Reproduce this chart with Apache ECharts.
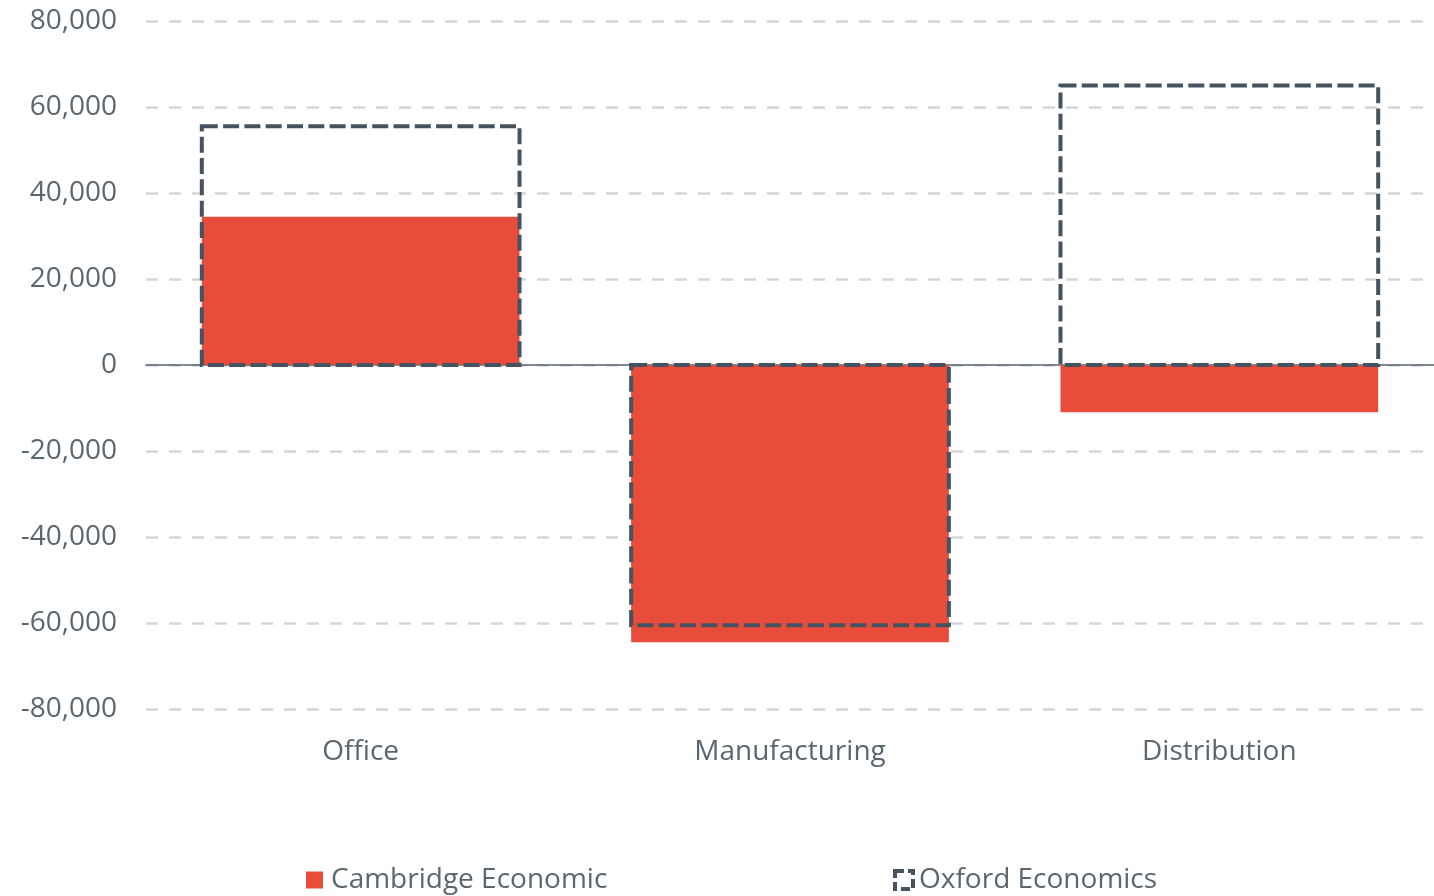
<!DOCTYPE html>
<html>
<head>
<meta charset="utf-8">
<script src="https://cdn.jsdelivr.net/npm/echarts@6/dist/echarts.min.js"></script>
<style>
  html, body { margin: 0; padding: 0; background: #ffffff; }
  #chart { width: 1434px; height: 896px; }
</style>
</head>
<body>
<div id="chart"></div>
<script>
// Net change by property sector, two forecasters
const categories = ['Office', 'Manufacturing', 'Distribution'];
const cambridgeValues = [34500, -64500, -11000];
const oxfordValues = [55500, -60500, 65000];
const seriesNames = ['Cambridge Economic', 'Oxford Economics'];

const textColor = '#5b6770';
const fontFamily = '"Open Sans", sans-serif';
const redColor = '#e84c3a';
const outlineColor = '#44535f';
const outlineDash = [16, 5.3];
const barRatio = 0.74;

const chart = echarts.init(document.getElementById('chart'));

// Outline bars: the dashed stroke is centred on the value edges
function renderOutlineBar(params, api) {
  const idx = api.value(0);
  const base = api.coord([idx, 0]);
  const tip = api.coord([idx, api.value(1)]);
  const w = api.size([1, 0])[0] * barRatio;
  return {
    type: 'rect',
    shape: {
      x: base[0] - w / 2,
      y: Math.min(base[1], tip[1]),
      width: w,
      height: Math.abs(tip[1] - base[1])
    },
    style: {
      fill: null,
      stroke: outlineColor,
      lineWidth: 4,
      lineDash: outlineDash
    }
  };
}

chart.setOption({
  animation: false,
  backgroundColor: '#ffffff',
  textStyle: { fontFamily: fontFamily },
  grid: { left: 146, right: 0, top: 21, bottom: 187, containLabel: false },
  legend: [
    {
      data: [{ name: seriesNames[0], icon: 'rect', itemStyle: { color: redColor } }],
      left: 301, top: 861,
      itemWidth: 17, itemHeight: 17,
      textStyle: { color: textColor, fontSize: 28, fontFamily: fontFamily, padding: [0, 0, 0, 3] }
    },
    {
      data: [{
        name: seriesNames[1], icon: 'rect',
        itemStyle: { color: 'rgba(255,255,255,0)', borderColor: outlineColor, borderWidth: 4, borderType: [9, 4] }
      }],
      left: 888, top: 861,
      itemWidth: 18, itemHeight: 18,
      textStyle: { color: textColor, fontSize: 28, fontFamily: fontFamily, padding: [0, 0, 0, 1] }
    }
  ],
  xAxis: {
    type: 'category',
    data: categories,
    axisLine: { onZero: true, lineStyle: { color: '#57636c', width: 1.5 } },
    axisTick: { show: false },
    axisLabel: { color: textColor, fontSize: 28, fontFamily: fontFamily, margin: 29 },
    position: 'bottom'
  },
  yAxis: {
    type: 'value',
    min: -80000, max: 80000, interval: 20000,
    axisLine: { show: false },
    axisTick: { show: false },
    axisLabel: {
      color: textColor, fontSize: 28, fontFamily: fontFamily, margin: 29,
      formatter: v => v.toLocaleString('en-US')
    },
    splitLine: { lineStyle: { color: '#d3d6d9', width: 2.5, type: [12, 11] } }
  },
  series: [
    {
      name: seriesNames[0],
      type: 'bar',
      data: cambridgeValues,
      barWidth: (barRatio * 100) + '%',
      itemStyle: { color: redColor },
      z: 2
    },
    {
      name: seriesNames[1],
      type: 'custom',
      renderItem: renderOutlineBar,
      data: oxfordValues.map((v, i) => [i, v]),
      encode: { x: 0, y: 1 },
      itemStyle: { color: outlineColor },
      z: 3
    }
  ]
});
</script>
</body>
</html>
